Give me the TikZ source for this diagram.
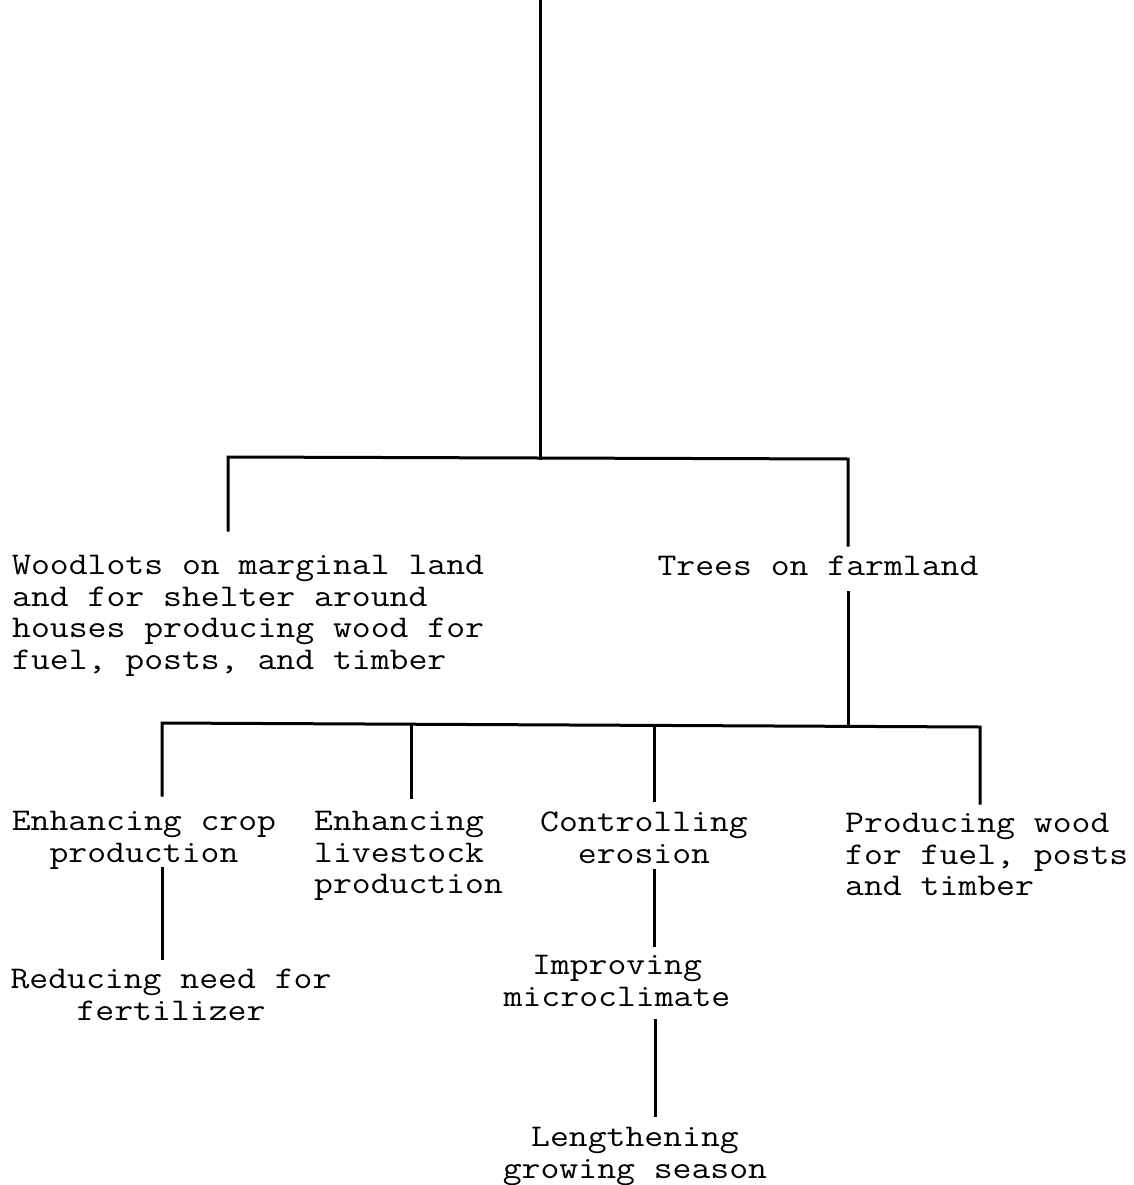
\documentclass[tikz,border=0pt]{standalone}
\usepackage{fontspec}
\setmonofont{Latin Modern Mono}[FakeStretch=1.16]
\begin{document}
\begin{tikzpicture}[x=1pt,y=-1pt,
  lbl/.style={inner sep=0pt,font=\ttfamily\fontsize{31.6}{31.7}\selectfont},
  ln/.style={line width=3pt,line cap=rect}]
\useasboundingbox (0,0) rectangle (1134,1185);
% labels
\node[lbl,align=left,anchor=north west] (wl) at (12,555) {Woodlots on marginal land\\and for shelter around\\houses producing wood for\\fuel, posts, and timber};
\node[lbl,anchor=north] (tf) at (818,556) {Trees on farmland};
\node[lbl,align=center,anchor=north] (crop) at (144,811) {Enhancing crop\\production};
\node[lbl,align=left,anchor=north west] (live) at (314,811) {Enhancing\\livestock\\production};
\node[lbl,align=center,anchor=north] (ero) at (644,812) {Controlling\\erosion};
\node[lbl,align=left,anchor=north west] (wood) at (845,813) {Producing wood\\for fuel, posts\\and timber};
\node[lbl,align=center,anchor=north] (fert) at (171,969) {Reducing need for\\fertilizer};
\node[lbl,align=center,anchor=north] (micro) at (617,955) {Improving\\microclimate};
\node[lbl,align=center,anchor=north] (len) at (635,1127) {Lengthening\\growing season};
% junction coordinates
\coordinate (top) at (540,0);
\coordinate (j1) at (540,458);
\coordinate (aL) at (228,457);
\coordinate (aR) at (848,459);
\coordinate (aLe) at (228,530);
\coordinate (aRe) at (848,545);
\coordinate (tfb) at (848,592);
\coordinate (j2) at (848,725);
\coordinate (bL) at (162,723);
\coordinate (bR) at (980,727);
\coordinate (b1) at (162,795);
\coordinate (b2t) at (411,724);
\coordinate (b2) at (411,797);
\coordinate (b3t) at (654,725);
\coordinate (b3) at (654,800);
\coordinate (b4) at (980,803);
\coordinate (c1t) at (162,868);
\coordinate (c1) at (162,958);
\coordinate (c2t) at (654,870);
\coordinate (c2) at (654,945);
\coordinate (c3t) at (655,1020);
\coordinate (c3) at (655,1115);
% connectors
\draw[ln] (top) -- (j1);
\draw[ln] (aLe) -- (aL) -- (aR) -- (aRe);
\draw[ln] (tfb) -- (j2);
\draw[ln] (b1) -- (bL) -- (bR) -- (b4);
\draw[ln] (b2t) -- (b2);
\draw[ln] (b3t) -- (b3);
\draw[ln] (c1t) -- (c1);
\draw[ln] (c2t) -- (c2);
\draw[ln] (c3t) -- (c3);
\end{tikzpicture}
\end{document}
